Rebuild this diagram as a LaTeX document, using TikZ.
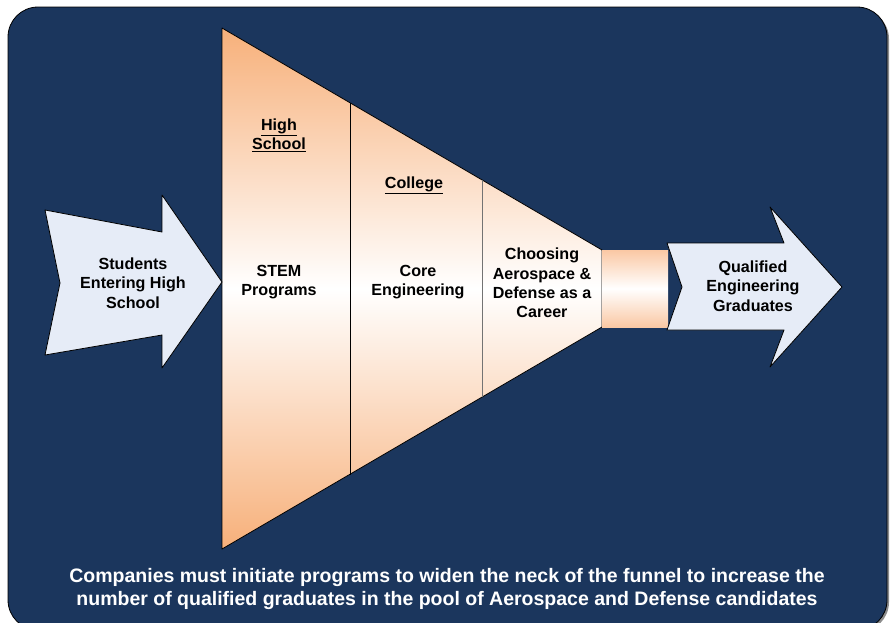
\documentclass[tikz,border=0pt]{standalone}
\usepackage{fontspec}
\setmainfont{Liberation Sans}

\definecolor{navy}{HTML}{1B365D}
\definecolor{peach}{HTML}{F7B07A}
\definecolor{lightpeach}{HTML}{FAC8A4}
\definecolor{paleblue}{HTML}{E6ECF7}

\begin{document}
\begin{tikzpicture}[x=1pt, y=-1pt, line join=round]
        \tikzstyle{label}=[font=\bfseries\fontsize{16.1}{19.3}\selectfont, align=center, text=black, inner sep=0pt]
        \tikzstyle{footer}=[font=\bfseries\fontsize{19.5}{23}\selectfont, align=center, text=white, inner sep=0pt]
        \tikzstyle{bigarrow}=[fill=paleblue, draw=black, line width=0.8pt]

        \useasboundingbox (0,0) rectangle (890,622);

        % panel
        \fill[black!45, rounded corners=30pt] (10,9) rectangle (889,632);
        \draw[fill=navy, draw=black, line width=0.8pt, rounded corners=30pt] (8,7) rectangle (887,630);

        % funnel and neck
        \shadedraw[top color=peach, bottom color=peach, middle color=white, draw=black, line width=0.8pt]
            (222,28) -- (602,250) -- (602,327) -- (222,549) -- cycle;
        \shade[top color=lightpeach, bottom color=lightpeach, middle color=white]
            (602,250) rectangle (668,327);
        \draw[black, line width=0.8pt] (350,103) -- (350,475);
        \draw[black!55, line width=1pt] (482,180) -- (482,397);

        % in and out arrows
        \draw[bigarrow] (45,210) -- (162,232) -- (162,195) -- (222,282) -- (162,368)
            -- (162,335) -- (45,355) -- (60,283) -- cycle;
        \draw[bigarrow] (667,243) -- (784,243) -- (770,207) -- (842,287) -- (770,367)
            -- (784,330) -- (667,330) -- (682,287) -- cycle;

        \node[label] (in) at (133,283) {Students\\Entering High\\School};
        \node[label] (out) at (753,286) {Qualified\\Engineering\\Graduates};

        \node[label] (hs) at (279,135) {\underline{High}\\\underline{School}};
        \node[label] (col) at (414,185) {\underline{College}};

        \node[label] (stem) at (279,282) {STEM\\Programs};
        \node[label] (core) at (418,282) {Core\\Engineering};
        \node[label] (career) at (542,283) {Choosing\\Aerospace \&\\Defense as a\\Career};

        \node[footer] (note) at (447,589) {Companies must initiate programs to widen the neck of the funnel to increase the\\number of qualified graduates in the pool of Aerospace and Defense candidates};
\end{tikzpicture}
\end{document}
